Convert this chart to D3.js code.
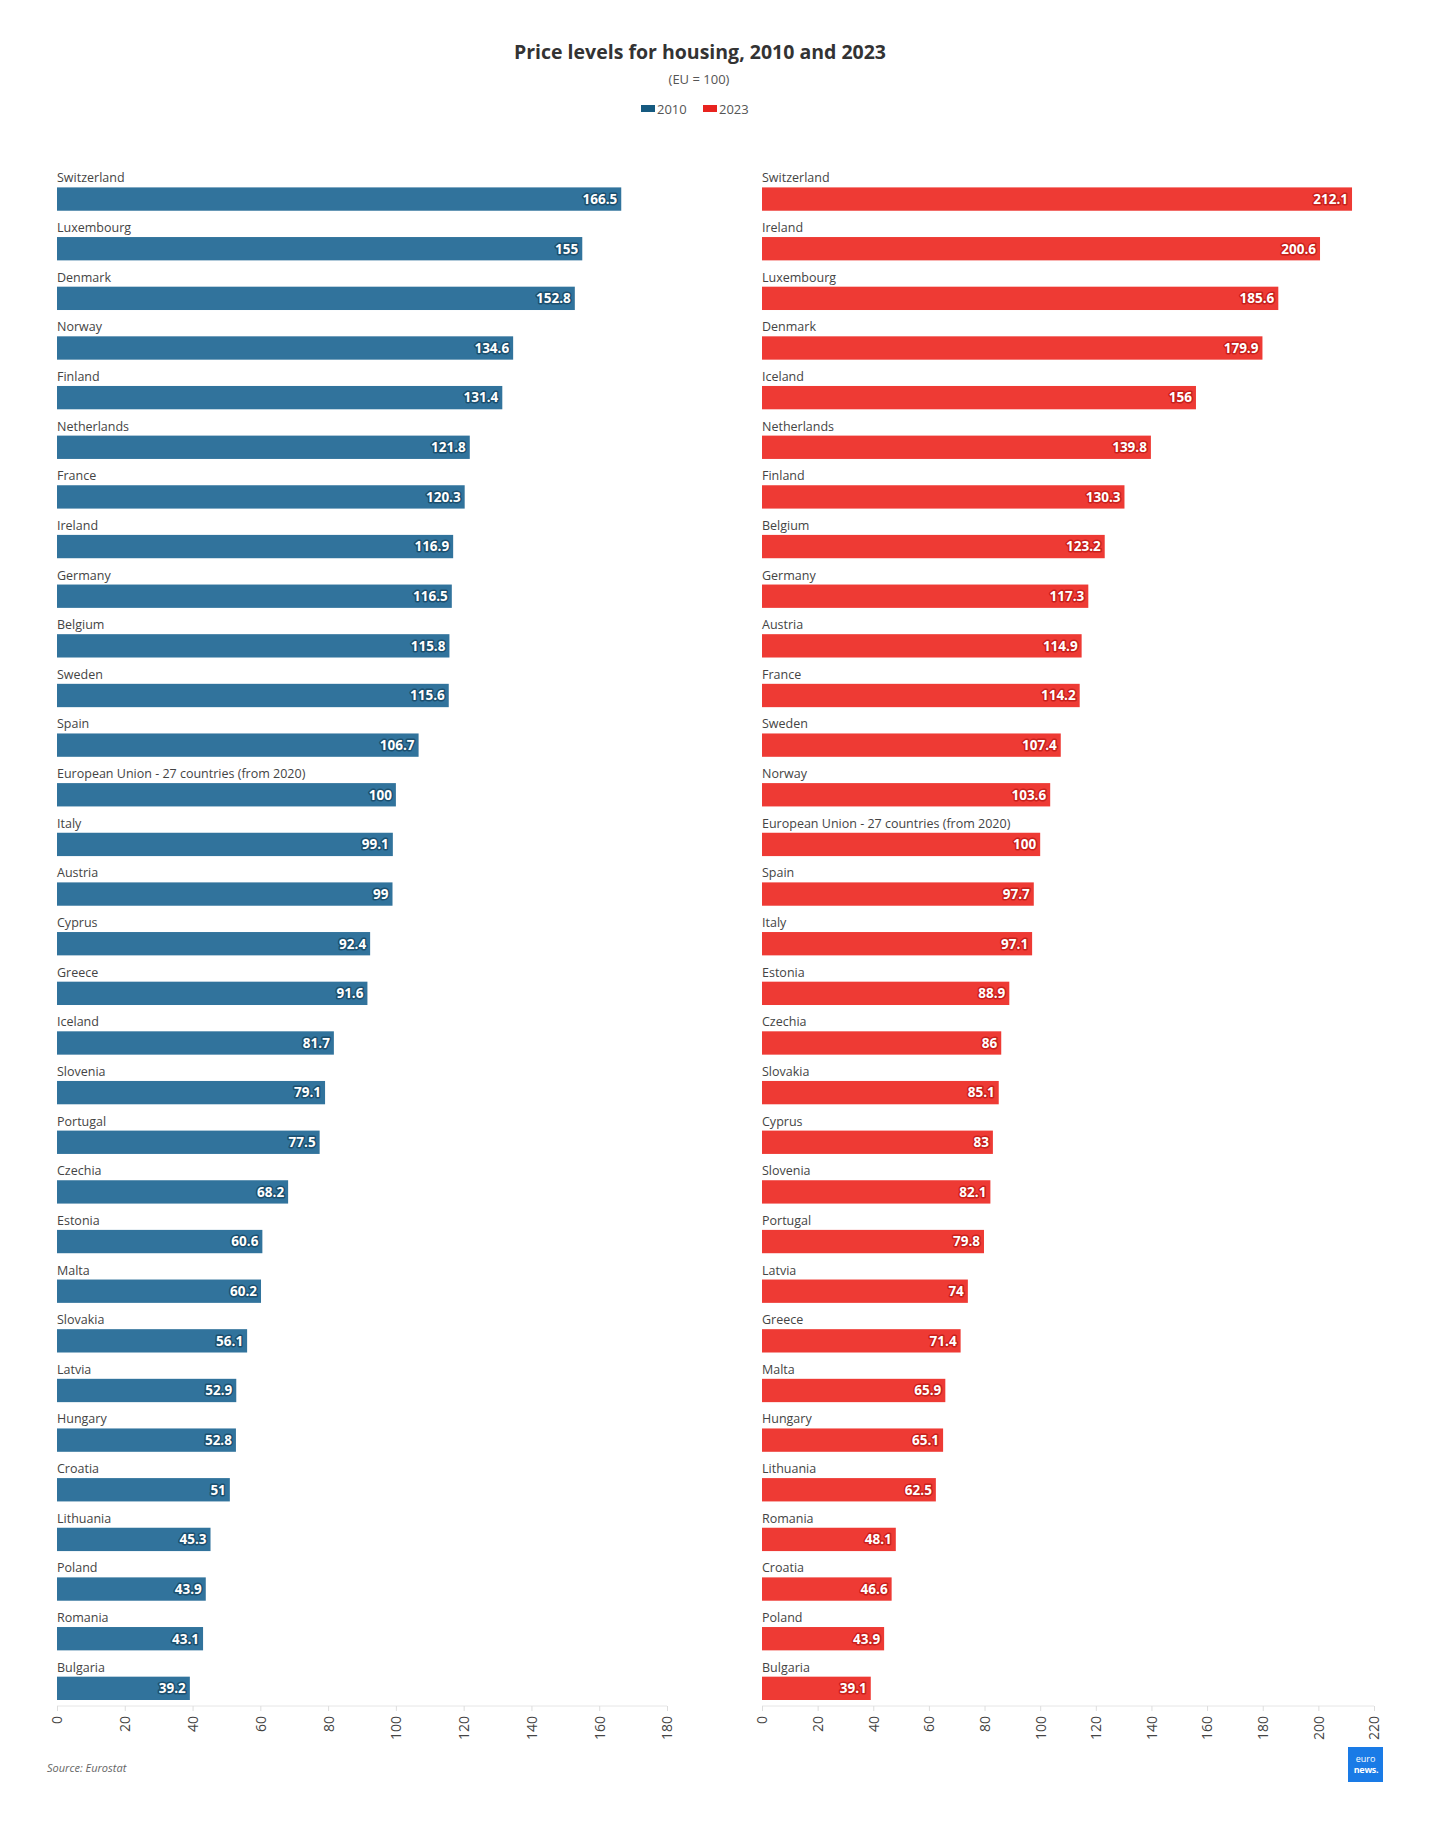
<!DOCTYPE html>
<html><head><meta charset="utf-8">
<script src="https://cdn.jsdelivr.net/npm/d3@7"></script>
<style>
body{margin:0;background:#fff;font-family:"Open Sans",sans-serif;}
</style></head>
<body>
<svg id="chart" width="1436" height="1824"></svg>
<script>
const countries2010 = ["Switzerland","Luxembourg","Denmark","Norway","Finland","Netherlands","France","Ireland","Germany","Belgium","Sweden","Spain","European Union - 27 countries (from 2020)","Italy","Austria","Cyprus","Greece","Iceland","Slovenia","Portugal","Czechia","Estonia","Malta","Slovakia","Latvia","Hungary","Croatia","Lithuania","Poland","Romania","Bulgaria"];
const values2010 = [166.5,155,152.8,134.6,131.4,121.8,120.3,116.9,116.5,115.8,115.6,106.7,100,99.1,99,92.4,91.6,81.7,79.1,77.5,68.2,60.6,60.2,56.1,52.9,52.8,51,45.3,43.9,43.1,39.2];
const countries2023 = ["Switzerland","Ireland","Luxembourg","Denmark","Iceland","Netherlands","Finland","Belgium","Germany","Austria","France","Sweden","Norway","European Union - 27 countries (from 2020)","Spain","Italy","Estonia","Czechia","Slovakia","Cyprus","Slovenia","Portugal","Latvia","Greece","Malta","Hungary","Lithuania","Romania","Croatia","Poland","Bulgaria"];
const values2023 = [212.1,200.6,185.6,179.9,156,139.8,130.3,123.2,117.3,114.9,114.2,107.4,103.6,100,97.7,97.1,88.9,86,85.1,83,82.1,79.8,74,71.4,65.9,65.1,62.5,48.1,46.6,43.9,39.1];
const ticks2010 = [0,20,40,60,80,100,120,140,160,180];
const ticks2023 = [0,20,40,60,80,100,120,140,160,180,200,220];

const svg = d3.select("#chart");

svg.append("text").attr("x",700).attr("y",59).attr("text-anchor","middle")
  .attr("font-size",19.5).attr("font-weight",700).attr("fill","#333").text("Price levels for housing, 2010 and 2023");
svg.append("text").attr("x",699).attr("y",84).attr("text-anchor","middle")
  .attr("font-size",13).attr("fill","#555").text("(EU = 100)");

// legend
const leg = [{k:"2010",c:"#165a80",x:641},{k:"2023",c:"#e8231f",x:703}];
leg.forEach(l=>{
  svg.append("rect").attr("x",l.x).attr("y",105).attr("width",14).attr("height",7).attr("fill",l.c);
  svg.append("text").attr("x",l.x+16).attr("y",114).attr("font-size",13).attr("fill","#555").text(l.k);
});

function panel(names, vals, ticks, x0, x1, max, fill, stroke){
  const x = d3.scaleLinear().domain([0,max]).range([x0,x1]);
  const y = d3.scaleBand().domain(names).range([187.4,1700]).paddingInner(0.53).paddingOuter(0);
  const g = svg.append("g");
  const axisY = 1706;
  g.append("line").attr("x1",x0).attr("x2",x1).attr("y1",axisY).attr("y2",axisY).attr("stroke","#e6e6e6");
  const ax = g.append("g").attr("transform",`translate(0,${axisY})`)
    .call(d3.axisBottom(x).tickValues(ticks).tickSize(5).tickFormat(d3.format("d")));
  ax.select(".domain").remove();
  ax.selectAll(".tick line").attr("stroke","#ddd");
  ax.selectAll(".tick text").attr("font-family","'Open Sans',sans-serif").attr("font-size",14).attr("fill","#444")
    .attr("transform","rotate(-90)").attr("text-anchor","end").attr("x",-10).attr("y",0).attr("dy","0.35em");
  const data = names.map((n,i)=>({n, v:vals[i]}));
  g.selectAll("rect.bar").data(data).join("rect").attr("class","bar")
    .attr("x",x0).attr("y",d=>y(d.n)).attr("width",d=>x(d.v)-x0).attr("height",y.bandwidth()).attr("fill",fill);
  g.selectAll("text.lab").data(data).join("text").attr("class","lab")
    .attr("x",x0).attr("y",d=>y(d.n)-5).attr("font-size",12.5).attr("fill","#444").text(d=>d.n);
  g.selectAll("text.val").data(data).join("text").attr("class","val")
    .attr("x",d=>x(d.v)-4).attr("y",d=>y(d.n)+y.bandwidth()/2).attr("dy","0.36em")
    .attr("text-anchor","end").attr("font-size",13.5).attr("font-weight",700).attr("fill","#fff")
    .attr("stroke",stroke).attr("stroke-width",3).attr("paint-order","stroke").attr("stroke-linejoin","round")
    .text(d=>d.v);
}
panel(countries2010, values2010, ticks2010, 57, 667, 180, "#31739c", "#1b4f6e");
panel(countries2023, values2023, ticks2023, 762, 1374, 220, "#ee3a34", "#c8201b");

svg.append("text").attr("x",47).attr("y",1772).attr("font-size",11).attr("font-style","italic").attr("fill","#666").text("Source: Eurostat");
// logo
svg.append("rect").attr("x",1348).attr("y",1747).attr("width",35).attr("height",35).attr("fill","#1a7be6");
svg.append("text").attr("x",1365.5).attr("y",1762).attr("text-anchor","middle").attr("font-size",9).attr("fill","#fff").text("euro");
svg.append("text").attr("x",1366).attr("y",1773).attr("text-anchor","middle").attr("font-size",9).attr("font-weight",700).attr("letter-spacing",-0.3).attr("fill","#fff").text("news.");
</script>
</body></html>
